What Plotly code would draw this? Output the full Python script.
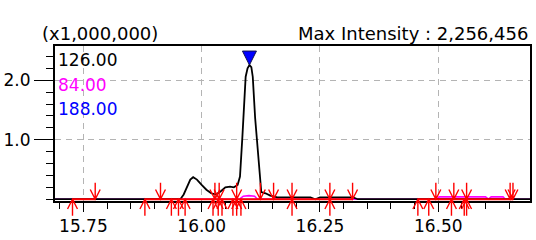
import plotly.graph_objects as go

# ---------------- data ----------------
series_names = ["126.00", "84.00", "188.00"]
series_colors = ["#000000", "#ff00ff", "#0000ff"]

# m/z 126.00 (black) : retention time (min) / intensity (x1,000,000)
time_126 = [15.690, 15.955, 15.962, 15.970, 15.976, 15.982, 15.990, 16.000, 16.010,
            16.020, 16.030, 16.040, 16.050, 16.060, 16.068, 16.076, 16.081, 16.086,
            16.089, 16.093, 16.097, 16.101, 16.105, 16.108, 16.113, 16.118, 16.122,
            16.126, 16.135, 16.145, 16.160, 16.172, 16.230, 16.240, 16.250, 16.320,
            16.330, 16.694]
int_126 = [0.0, 0.0, 0.08, 0.22, 0.33, 0.37, 0.33, 0.24, 0.16,
           0.10, 0.08, 0.13, 0.20, 0.21, 0.20, 0.24, 0.38, 1.04,
           1.60, 2.06, 2.20, 2.256, 2.22, 2.06, 1.37, 0.83, 0.38,
           0.12, 0.10, 0.06, 0.03, 0.03, 0.03, 0.0, 0.03, 0.03,
           0.0, 0.0]

# m/z 84.00 (magenta)
time_84 = [15.690, 16.080, 16.088, 16.100, 16.112, 16.118, 16.497, 16.502,
           16.600, 16.606, 16.612, 16.637, 16.642, 16.694]
int_84 = [0.0, 0.0, 0.05, 0.06, 0.05, 0.0, 0.0, 0.04,
          0.04, 0.0, 0.04, 0.04, 0.0, 0.0]

# m/z 188.00 (blue) - stays on the baseline
time_188 = [15.690, 16.694]
int_188 = [0.0, 0.0]

max_intensity = 2256456
peak_time = 16.101

# integration baselines (red) and peak start/end markers
red_seg_start = [15.727, 15.880, 16.457]
red_seg_end = [15.775, 16.319, 16.658]
marker_down_times = [15.775, 15.913, 16.028, 16.037, 16.074, 16.124, 16.152, 16.191,
                     16.271, 16.319, 16.495, 16.533, 16.560, 16.652, 16.658]
marker_up_times = [15.727, 15.880, 15.936, 15.951, 15.965, 16.024, 16.035, 16.043,
                   16.066, 16.074, 16.083, 16.191, 16.271, 16.457, 16.480, 16.528,
                   16.555, 16.560]

x_tick_vals = [15.75, 16.00, 16.25, 16.50]
x_tick_text = ["15.75", "16.00", "16.25", "16.50"]
y_tick_vals = [1.0, 2.0]
y_tick_text = ["1.0", "2.0"]

# ---------------- figure ----------------
W, H = 536, 240
M_L, M_R, M_T, M_B = 53, 4, 46, 35
X_RANGE = [15.690, 16.694]
Y_RANGE = [-0.03, 2.577]
FONT = "DejaVu Sans"
FS = 17

fig = go.Figure()

fig.add_trace(go.Scatter(x=time_188, y=int_188, mode="lines",
                         line=dict(color=series_colors[2], width=1),
                         name=series_names[2], showlegend=False))
fig.add_trace(go.Scatter(x=time_84, y=int_84, mode="lines",
                         line=dict(color=series_colors[1], width=1.6),
                         name=series_names[1], showlegend=False))
fig.add_trace(go.Scatter(x=time_126, y=int_126, mode="lines",
                         line=dict(color=series_colors[0], width=1.8),
                         name=series_names[0], showlegend=False))

seg_x, seg_y = [], []
for a, b in zip(red_seg_start, red_seg_end):
    seg_x += [a, b, None]
    seg_y += [0, 0, None]
fig.add_trace(go.Scatter(x=seg_x, y=seg_y, mode="lines",
                         line=dict(color="#ff0000", width=2),
                         showlegend=False, hoverinfo="skip"))

fig.add_trace(go.Scatter(x=[peak_time], y=[max_intensity / 1e6], mode="markers",
                         marker=dict(symbol="arrow-down", size=14, color="#0000ff",
                                     line=dict(color="#101050", width=1)),
                         cliponaxis=False, showlegend=False))

# red arrow markers as shapes (x in data, y in paper so they can extend below the axis)
plot_h = H - M_T - M_B
plot_w = W - M_L - M_R
y0p = (0 - Y_RANGE[0]) / (Y_RANGE[1] - Y_RANGE[0])
h_stem = 17 / plot_h
h_arm = 10 / plot_h
dx = 5 * (X_RANGE[1] - X_RANGE[0]) / plot_w
shapes = []
for times, s in ((marker_down_times, 1), (marker_up_times, -1)):
    for t in times:
        path = (f"M {t - dx},{y0p + s * h_arm} L {t},{y0p} L {t + dx},{y0p + s * h_arm} "
                f"M {t},{y0p} L {t},{y0p + s * h_stem}")
        shapes.append(dict(type="path", path=path, xref="x", yref="paper",
                           line=dict(color="#ff0000", width=1.4)))

annotations = [
    dict(text="(x1,000,000)", xref="paper", yref="paper", x=(38 - M_L) / plot_w, y=1,
         xanchor="left", yanchor="middle", yshift=13, showarrow=False,
         font=dict(family=FONT, size=18, color="#000000")),
    dict(text=f"Max Intensity : {max_intensity:,}", xref="paper", yref="paper", x=1, y=1,
         xanchor="right", yanchor="middle", yshift=13, showarrow=False,
         font=dict(family=FONT, size=18, color="#000000")),
]
for i, (nm, col) in enumerate(zip(series_names, series_colors)):
    annotations.append(dict(text=nm, xref="paper", yref="paper", x=0, y=1, xshift=1,
                             xanchor="left", yanchor="middle", yshift=-14 - 24.5 * i,
                             showarrow=False, font=dict(family=FONT, size=FS, color=col)))

grid_kw = dict(showgrid=True, gridcolor="#b4b4b4", gridwidth=1, griddash="6px,5px")

fig.update_layout(
    width=W, height=H,
    margin=dict(l=M_L, r=M_R, t=M_T, b=M_B),
    paper_bgcolor="white", plot_bgcolor="white",
    font=dict(family=FONT, size=FS, color="#000000"),
    shapes=shapes, annotations=annotations,
    xaxis=dict(range=X_RANGE, showline=True, linecolor="#000000", linewidth=2, mirror=True,
               ticks="outside", ticklen=9, tickwidth=1, tickcolor="#000000",
               tickvals=x_tick_vals, ticktext=x_tick_text, zeroline=False,
               tickfont=dict(family=FONT, size=FS, color="#000000"),
               minor=dict(tickmode="linear", tick0=15.75, dtick=0.05, ticks="outside",
                          ticklen=6, tickcolor="#000000", showgrid=False),
               **grid_kw),
    yaxis=dict(range=Y_RANGE, showline=True, linecolor="#000000", linewidth=2, mirror=True,
               ticks="outside", ticklen=19, tickwidth=1, tickcolor="#000000",
               tickvals=y_tick_vals, ticktext=y_tick_text, zeroline=False,
               tickfont=dict(family=FONT, size=FS, color="#000000"),
               minor=dict(tickmode="linear", tick0=0, dtick=0.2, ticks="outside",
                          ticklen=7, tickcolor="#000000", showgrid=False),
               **grid_kw),
    showlegend=False,
)

# the page's default 8px body margin would shift the 536x240 figure out of the window
fig.write_html("out.html", config={"displayModeBar": False},
               post_script="document.body.style.margin='0px';")
